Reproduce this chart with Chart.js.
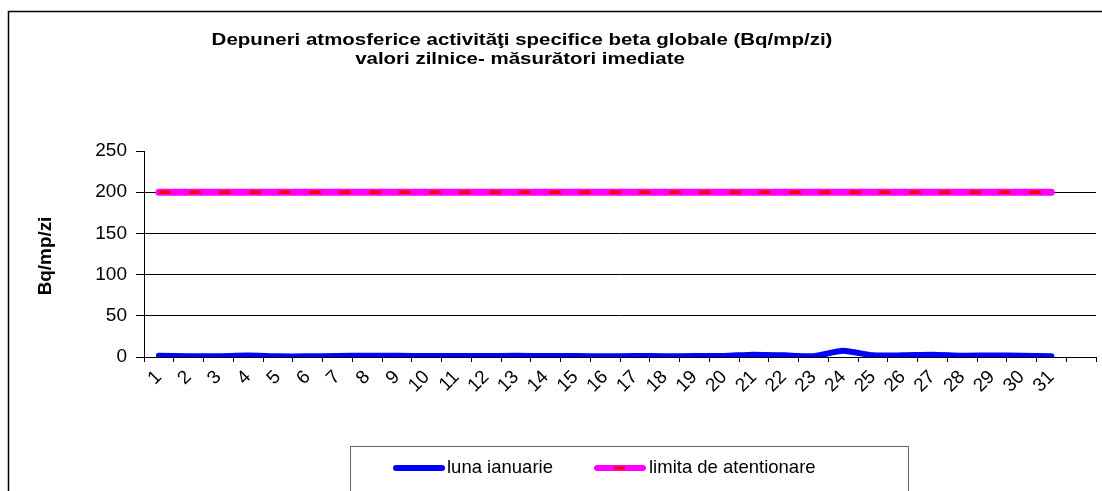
<!DOCTYPE html>
<html>
<head>
<meta charset="utf-8">
<script src="https://cdn.jsdelivr.net/npm/chart.js@4"></script>
<style>
html,body{margin:0;padding:0;background:#fff;}
#wrap{width:1102px;height:491px;position:relative;}
</style>
</head>
<body>
<div id="wrap"><canvas id="c" width="1102" height="491"></canvas></div>
<script>
const titleLines = ["Depuneri atmosferice activităţi specifice beta globale (Bq/mp/zi)", "valori zilnice- măsurători imediate"];
const yAxisTitle = "Bq/mp/zi";
const days = ["1","2","3","4","5","6","7","8","9","10","11","12","13","14","15","16","17","18","19","20","21","22","23","24","25","26","27","28","29","30","31",""];
const lunaIanuarie = [1.5,0.8,1,1.8,0.8,0.8,1.3,1.6,1.5,1.2,1.2,1.2,1.5,1.2,1.2,0.8,1.3,0.9,1.2,1.3,2.8,2,1,7.5,2,2,2.7,1.6,1.8,1.5,0.8];
const limita = [200,200,200,200,200,200,200,200,200,200,200,200,200,200,200,200,200,200,200,200,200,200,200,200,200,200,200,200,200,200,200];
const seriesNames = ["luna ianuarie","limita de atentionare"];
const yTicks = [0,50,100,150,200,250];

const FONT = "'Liberation Sans', Arial, sans-serif";

const decor = {
  id: 'decor',
  beforeDraw(chart) {
    const ctx = chart.ctx;
    ctx.save();
    ctx.fillStyle = '#fff';
    ctx.fillRect(0,0,chart.width,chart.height);
    ctx.restore();
  },
  afterDraw(chart) {
    const ctx = chart.ctx;
    ctx.save();
    // outer border
    ctx.strokeStyle = '#000';
    ctx.lineWidth = 1.5;
    ctx.strokeRect(8.5, 11.5, 1200, 600);
    // title (horizontally stretched like the original)
    ctx.fillStyle = '#000';
    ctx.font = "bold 16.5px " + FONT;
    ctx.textAlign = 'center';
    ctx.textBaseline = 'middle';
    ctx.save();
    ctx.translate(522, 40);
    ctx.scale(1.24, 1);
    ctx.fillText(titleLines[0], 0, 0);
    ctx.restore();
    ctx.save();
    ctx.translate(520, 59);
    ctx.scale(1.24, 1);
    ctx.fillText(titleLines[1], 0, 0);
    ctx.restore();
    // y axis title
    ctx.save();
    ctx.translate(46, 256);
    ctx.rotate(-Math.PI/2);
    ctx.scale(1.05, 1);
    ctx.font = "bold 18px " + FONT;
    ctx.fillText(yAxisTitle, 0, 0);
    ctx.restore();
    // legend box
    ctx.strokeStyle = '#666';
    ctx.lineWidth = 1;
    ctx.strokeRect(350.5, 446.5, 558, 100);
    const ly = 468;
    ctx.lineCap = 'round';
    ctx.strokeStyle = '#0000FF';
    ctx.lineWidth = 6;
    ctx.beginPath(); ctx.moveTo(396, ly); ctx.lineTo(442, ly); ctx.stroke();
    ctx.strokeStyle = '#FF00FF';
    ctx.lineWidth = 6;
    ctx.beginPath(); ctx.moveTo(597, ly); ctx.lineTo(643, ly); ctx.stroke();
    ctx.lineCap = 'butt';
    ctx.strokeStyle = '#FF0000';
    ctx.lineWidth = 3;
    ctx.beginPath(); ctx.moveTo(614, ly); ctx.lineTo(625, ly); ctx.stroke();
    ctx.fillStyle = '#000';
    ctx.font = "18.5px " + FONT;
    ctx.textAlign = 'left';
    ctx.fillText(seriesNames[0], 447, ly);
    ctx.fillText(seriesNames[1], 649, ly);
    ctx.restore();
  }
};

new Chart(document.getElementById('c'), {
  type: 'line',
  data: {
    labels: days,
    datasets: [
      { label: seriesNames[1], data: limita, borderColor: '#FF00FF', borderWidth: 7, pointRadius: 0, tension: 0, borderCapStyle: 'round', order: 2 },
      { label: seriesNames[1] + ' ', data: limita, borderColor: '#FF0000', borderWidth: 3.5, borderDash: [12,18], pointRadius: 0, tension: 0, order: 1 },
      { label: seriesNames[0], data: lunaIanuarie, borderColor: '#0000FF', borderWidth: 6, pointRadius: 0, tension: 0.2, borderCapStyle: 'round', order: 0 }
    ]
  },
  options: {
    responsive: false,
    animation: false,
    devicePixelRatio: 1,
    layout: { padding: { top: 151, right: 6, bottom: 0, left: 0 } },
    plugins: { legend: { display: false }, tooltip: { enabled: false }, title: { display: false } },
    scales: {
      x: {
        type: 'category',
        offset: true,
        grid: { offset: true, drawOnChartArea: false, color: '#000', tickLength: 5, tickColor: '#000' },
        border: { color: '#000', width: 1 },
        ticks: { color: '#000', font: { family: FONT, size: 19 }, minRotation: 45, maxRotation: 45, autoSkip: false, padding: 4 },
        afterFit(s) { s.height = 134; }
      },
      y: {
        min: 0, max: 250,
        afterBuildTicks(s) { s.ticks = yTicks.map(v => ({ value: v })); },
        grid: {
          color: (c) => (c.tick && (c.tick.value === 250 || c.tick.value === 0)) ? 'rgba(0,0,0,0)' : '#000',
          tickColor: '#000', tickLength: 8, lineWidth: 1
        },
        border: { color: '#000', width: 1 },
        ticks: { color: '#000', font: { family: FONT, size: 19 }, padding: 9, stepSize: 50 },
        afterFit(s) { s.width = 144; }
      }
    }
  },
  plugins: [decor]
});
</script>
</body>
</html>
